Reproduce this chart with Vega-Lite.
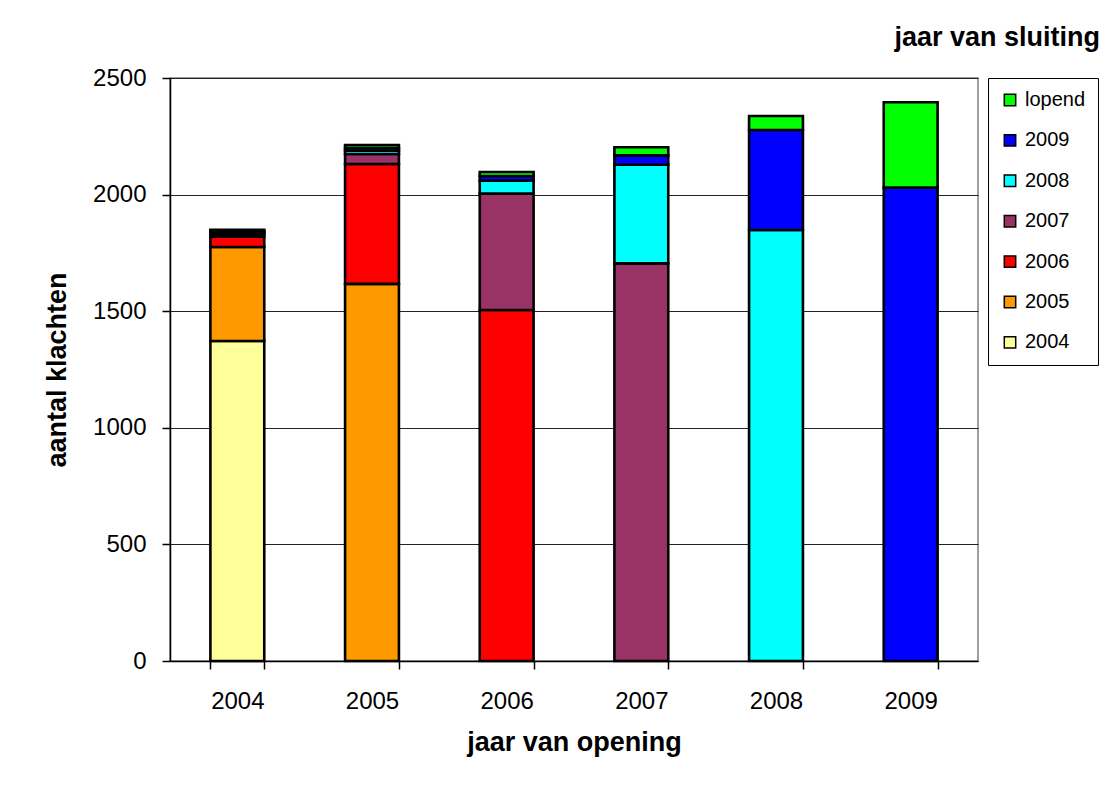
{
  "$schema": "https://vega.github.io/schema/vega-lite/v6.json",
  "autosize": {"type": "none"},
  "padding": {"left": 170, "top": 78, "right": 136, "bottom": 133},
  "width": 808,
  "height": 583,
  "background": "white",
  "title": {
    "text": "jaar van sluiting",
    "anchor": "end",
    "frame": "group",
    "orient": "top",
    "offset": 14,
    "dx": 122,
    "font": "Liberation Sans",
    "fontSize": 27,
    "fontWeight": "bold",
    "color": "black"
  },
  "data": {
    "values": [
      {"opening": "2004", "closing": "2004", "rank": 1, "count": 1372},
      {"opening": "2004", "closing": "2005", "rank": 2, "count": 403},
      {"opening": "2004", "closing": "2006", "rank": 3, "count": 44},
      {"opening": "2004", "closing": "2007", "rank": 4, "count": 10},
      {"opening": "2004", "closing": "2008", "rank": 5, "count": 8},
      {"opening": "2004", "closing": "2009", "rank": 6, "count": 7},
      {"opening": "2004", "closing": "lopend", "rank": 7, "count": 5},
      {"opening": "2005", "closing": "2005", "rank": 2, "count": 1617},
      {"opening": "2005", "closing": "2006", "rank": 3, "count": 514},
      {"opening": "2005", "closing": "2007", "rank": 4, "count": 43},
      {"opening": "2005", "closing": "2008", "rank": 5, "count": 14},
      {"opening": "2005", "closing": "2009", "rank": 6, "count": 12},
      {"opening": "2005", "closing": "lopend", "rank": 7, "count": 13},
      {"opening": "2006", "closing": "2006", "rank": 3, "count": 1505},
      {"opening": "2006", "closing": "2007", "rank": 4, "count": 500},
      {"opening": "2006", "closing": "2008", "rank": 5, "count": 55},
      {"opening": "2006", "closing": "2009", "rank": 6, "count": 20},
      {"opening": "2006", "closing": "lopend", "rank": 7, "count": 17},
      {"opening": "2007", "closing": "2007", "rank": 4, "count": 1705},
      {"opening": "2007", "closing": "2008", "rank": 5, "count": 423},
      {"opening": "2007", "closing": "2009", "rank": 6, "count": 40},
      {"opening": "2007", "closing": "lopend", "rank": 7, "count": 35},
      {"opening": "2008", "closing": "2008", "rank": 5, "count": 1848},
      {"opening": "2008", "closing": "2009", "rank": 6, "count": 429},
      {"opening": "2008", "closing": "lopend", "rank": 7, "count": 60},
      {"opening": "2009", "closing": "2009", "rank": 6, "count": 2030},
      {"opening": "2009", "closing": "lopend", "rank": 7, "count": 366}
    ]
  },
  "mark": {"type": "bar", "stroke": "black", "strokeWidth": 2.6},
  "encoding": {
    "x": {
      "field": "opening",
      "type": "nominal",
      "scale": {"paddingInner": 0.6, "paddingOuter": 0.3},
      "axis": {
        "title": "jaar van opening",
        "labelAngle": 0,
        "tickBand": "extent",
        "tickSize": 8,
        "tickColor": "black",
        "domainColor": "black",
        "labelPadding": 20,
        "titlePadding": 16
      }
    },
    "y": {
      "field": "count",
      "type": "quantitative",
      "aggregate": "sum",
      "scale": {"domain": [0, 2500], "nice": false},
      "axis": {
        "title": "aantal klachten",
        "values": [0, 500, 1000, 1500, 2000, 2500],
        "format": "d",
        "tickSize": 8,
        "tickColor": "black",
        "domainColor": "black",
        "labelPadding": 16,
        "titlePadding": 21,
        "gridColor": "#222222",
        "gridOpacity": 1
      }
    },
    "color": {
      "field": "closing",
      "type": "nominal",
      "scale": {
        "domain": ["lopend", "2009", "2008", "2007", "2006", "2005", "2004"],
        "range": ["#00FF00", "#0000FF", "#00FFFF", "#993366", "#FF0000", "#FF9900", "#FFFF99"]
      },
      "legend": {
        "title": null,
        "orient": "right",
        "offset": 10,
        "symbolType": "square",
        "symbolSize": 130,
        "symbolStrokeColor": "black",
        "symbolStrokeWidth": 1.5,
        "symbolOpacity": 1,
        "labelFontSize": 20,
        "labelFont": "Liberation Sans",
        "labelColor": "black",
        "rowPadding": 20.4,
        "padding": 12,
        "strokeColor": "black",
        "labelOffset": 5
      }
    },
    "order": {"field": "rank", "type": "quantitative"}
  },
  "config": {
    "view": {"stroke": "#808080", "strokeWidth": 1.5},
    "axis": {
      "labelFont": "Liberation Sans",
      "labelFontSize": 24,
      "labelColor": "black",
      "titleFont": "Liberation Sans",
      "titleFontSize": 27,
      "titleFontWeight": "bold",
      "titleColor": "black",
      "domainWidth": 1.5,
      "tickWidth": 1.5
    }
  }
}
